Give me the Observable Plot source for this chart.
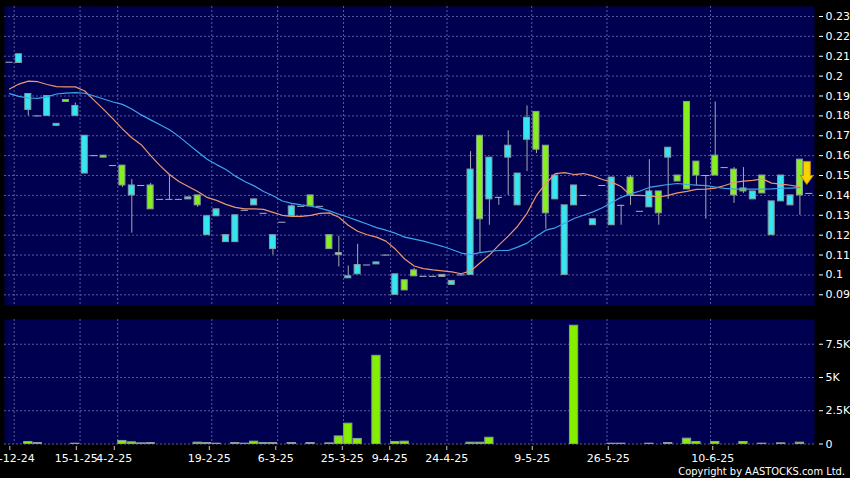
<!DOCTYPE html>
<html><head><meta charset="utf-8">
<script src="https://cdn.jsdelivr.net/npm/d3@7"></script>
<script src="https://cdn.jsdelivr.net/npm/@observablehq/plot@0.6"></script>
<style>
html,body{margin:0;padding:0;background:#000;}
#wrap{position:relative;width:850px;height:478px;background:#000;overflow:hidden;font-family:"DejaVu Sans",sans-serif;}
#wrap > div.p{position:absolute;left:0;}
#copy{position:absolute;right:5px;top:466px;color:#fff;font-family:"DejaVu Sans Condensed","DejaVu Sans",sans-serif;font-stretch:condensed;font-size:11px;line-height:11px;white-space:nowrap;}
</style></head><body>
<div id="wrap">
  <div class="p" id="main" style="top:0"></div>
  <div class="p" id="vol" style="top:310px"></div>
  <div class="p" id="axis" style="top:443px"></div>
  <div id="copy">Copyright by AASTOCKS.com Ltd.</div>
</div>
<script>
// ---- data (one entry per trading session, index 0..85) ----
const opens  = [.207,.2066,.183,.180,.180,.175,.188,.180,.151,.160,.160,.155,.155,.140,.145,.145,.138,.138,.138,.138,
  .140,.120,.1295,.1165,.1165,.1325,.135,.131,.113,.1265,.1295,.1345,.140,.1345,.120,.111,.0983,.1003,.105,.1053,
  .110,.090,.0973,.1023,.0993,.0993,.099,.095,.100,.100,.170,.138,.139,.159,.135,.168,.182,.165,.138,.100,
  .135,.140,.125,.145,.125,.135,.149,.132,.134,.142,.159,.150,.187,.157,.150,.160,.154,.153,.1435,.138,
  .150,.120,.137,.135,.158,.141];
const highs  = [.207,.211,.191,.180,.190,.176,.188,.1865,.170,.160,.160,.155,.155,.148,.145,.146,.138,.150,.138,.139,
  .140,.130,.133,.120,.130,.1325,.138,.131,.120,.1265,.1352,.1345,.140,.1345,.120,.1195,.1045,.1154,.105,.1063,
  .110,.1003,.0973,.1033,.0993,.0993,.100,.097,.100,.162,.170,.159,.139,.1725,.151,.185,.182,.165,.150,.135,
  .145,.140,.128,.145,.149,.135,.150,.132,.158,.142,.164,.150,.187,.157,.150,.187,.154,.154,.154,.142,
  .150,.137,.150,.140,.158,.141];
const lows   = [.207,.2066,.180,.180,.180,.175,.187,.180,.151,.160,.159,.155,.144,.121,.145,.133,.138,.138,.138,.138,
  .134,.120,.1295,.1165,.1165,.1325,.135,.131,.110,.1265,.1295,.1345,.1345,.1345,.113,.104,.0983,.1003,.105,.1053,
  .110,.090,.0922,.0993,.0993,.0993,.099,.095,.100,.100,.111,.125,.135,.140,.135,.152,.161,.123,.138,.100,
  .135,.140,.125,.145,.125,.125,.135,.132,.134,.125,.138,.147,.143,.145,.128,.150,.154,.136,.141,.138,
  .141,.120,.137,.135,.130,.141];
const closes = [.207,.211,.191,.180,.190,.176,.187,.185,.170,.160,.159,.155,.145,.145,.145,.133,.138,.138,.138,.139,
  .135,.1295,.133,.120,.130,.1325,.138,.131,.120,.1265,.1345,.1345,.1345,.1345,.113,.110,.0993,.105,.105,.1063,
  .110,.1003,.0922,.0993,.0993,.0993,.100,.097,.100,.153,.128,.159,.139,.165,.151,.179,.163,.131,.150,.135,
  .145,.140,.128,.145,.149,.135,.140,.132,.142,.131,.164,.147,.143,.150,.150,.150,.154,.140,.142,.142,
  .141,.137,.150,.140,.140,.141];
const volumes = [0,0,150,75,0,0,0,25,0,0,0,0,230,125,50,75,0,0,0,0,
  100,75,25,0,75,25,175,75,75,0,75,0,75,0,50,570,1530,380,0,6630,
  0,150,175,0,0,0,0,0,0,100,100,470,0,0,0,0,0,0,0,0,
  8890,0,0,0,25,25,0,0,25,0,75,0,400,150,0,150,0,0,150,0,
  25,0,50,0,100,0];
const maFast = [.1935,.196,.1975,.1972,.1958,.1947,.1946,.1946,.1925,.1878,.1833,.1785,.1735,.169,.1655,.160,.155,.1505,.147,.1445,
  .142,.139,.1375,.1355,.134,.1332,.1332,.133,.1315,.130,.1295,.1295,.130,.131,.1312,.129,.125,.122,.1202,.119,
  .117,.113,.108,.1045,.1032,.1025,.102,.1015,.1006,.102,.106,.110,.115,.1195,.1245,.131,.140,.146,.151,.1515,
  .1505,.151,.1498,.148,.1467,.1445,.140,.140,.1398,.1392,.140,.1413,.142,.143,.1432,.1437,.145,.1465,.1472,.1476,
  .1483,.1462,.1457,.1451,.1443,null];
const maSlow = [.1912,.1898,.189,.1888,.1896,.191,.1915,.1917,.1914,.190,.1885,.187,.1858,.1835,.1805,.178,.1755,.173,.1697,.1658,
  .162,.1582,.1555,.153,.1497,.147,.1448,.142,.1398,.1372,.136,.1352,.1346,.1336,.1322,.1305,.129,.1273,.1256,.1238,
  .1225,.121,.119,.118,.117,.1157,.1144,.1128,.111,.1102,.1112,.1118,.1123,.1123,.114,.116,.1195,.1225,.1237,.126,
  .1284,.130,.1317,.1338,.1364,.139,.1408,.1422,.144,.1448,.1455,.146,.1455,.1452,.1449,.1442,.1435,.1432,.1432,.1432,
  .1432,.1433,.1436,.1437,.1439,null];
const tickIndex  = [0, 7, 11, 21, 28, 35, 40, 46, 55, 63, 74];
const tickLabels = ["31-12-24","15-1-25","4-2-25","19-2-25","6-3-25","25-3-25","9-4-25","24-4-25","9-5-25","26-5-25","10-6-25"];
const priceTicks = [0.09,0.10,0.11,0.12,0.13,0.14,0.15,0.16,0.17,0.18,0.19,0.20,0.21,0.22,0.23];
const volumeTicks = [0, 2500, 5000, 7500];
const arrowIndex = 85, arrowPrice = 0.1513;

// ---- styling ----
const NAVY = "#000050", GRID = "#5a5aa0", CYAN = "#33e6f2", GREEN = "#86ef1e",
      OUTLINE = "#8c9c9c", WICK = "#a8a8b4", ORANGE = "#ec9670", BLUE = "#3ca4ec";
const FONT = {background: "transparent", color: "#fff", fontFamily: "DejaVu Sans, sans-serif", fontSize: "11px", overflow: "visible"};
const dash = {stroke: GRID, strokeOpacity: 1, strokeDasharray: "2,2"};

const candles = opens.map((o, i) => ({i, o, h: highs[i], l: lows[i], c: closes[i]}));
const up = candles.filter(d => d.c > d.o);
const down = candles.filter(d => d.c < d.o);
const flat = candles.filter(d => d.c === d.o);
const wicks = candles.filter(d => d.h > d.l);
const gridIdx = tickIndex.map(i => i + 0.5);
const fast = maFast.map((v, i) => ({i, v})).filter(d => d.v != null);
const slow = maSlow.map((v, i) => ({i, v})).filter(d => d.v != null);
const vols = volumes.map((v, i) => ({i, v})).filter(d => d.v > 0);

const xMain = {type: "linear", domain: [-0.53, 85.55], axis: null};
const half = 0.32, flatHalf = 0.38, volHalf = 0.44;

const arrowSymbol = {draw(ctx) {
  ctx.moveTo(-3.5, -11.5); ctx.lineTo(3.5, -11.5); ctx.lineTo(3.5, 2.5); ctx.lineTo(6.5, 2.5);
  ctx.lineTo(0, 11.5); ctx.lineTo(-6.5, 2.5); ctx.lineTo(-3.5, 2.5); ctx.closePath();
}};

const mainChart = Plot.plot({
  width: 850, height: 310, marginLeft: 4, marginRight: 36, marginTop: 6, marginBottom: 5,
  x: xMain,
  y: {domain: [0.08462, 0.23503], axis: null},
  style: FONT,
  marks: [
    Plot.frame({fill: NAVY}),
    Plot.ruleY(priceTicks, dash),
    Plot.ruleX(gridIdx, dash),
    Plot.ruleX(wicks, {x: "i", y1: "l", y2: "h", stroke: WICK}),
    Plot.ruleY(flat, {y: "c", x1: d => d.i - flatHalf, x2: d => d.i + flatHalf, stroke: "#a8b4c4"}),
    Plot.rect(up, {x1: d => d.i - half, x2: d => d.i + half, y1: "o", y2: "c", fill: CYAN, stroke: OUTLINE}),
    Plot.rect(down, {x1: d => d.i - half, x2: d => d.i + half, y1: "o", y2: "c", fill: GREEN, stroke: OUTLINE}),
    Plot.line(fast, {x: "i", y: "v", stroke: ORANGE, strokeWidth: 1.2}),
    Plot.line(slow, {x: "i", y: "v", stroke: BLUE, strokeWidth: 1.2}),
    Plot.dot([{i: arrowIndex, p: arrowPrice}], {x: "i", y: "p", dx: -2.5, symbol: arrowSymbol, fill: "#f6d200", stroke: "#c08a00", strokeWidth: 1}),
    Plot.axisY(priceTicks, {anchor: "right", label: null, tickSize: 4, tickPadding: 3, dx: 4, stroke: "#fff", tickFormat: d => String(+d.toFixed(2))})
  ]
});
document.getElementById("main").appendChild(mainChart);

const volChart = Plot.plot({
  width: 850, height: 168, marginLeft: 4, marginRight: 36, marginTop: 9, marginBottom: 34.5,
  x: xMain,
  y: {domain: [0, 9360], axis: null},
  style: FONT,
  marks: [
    Plot.frame({fill: NAVY}),
    Plot.ruleY(volumeTicks, dash),
    Plot.ruleX(gridIdx, dash),
    Plot.rect(vols, {x1: d => d.i - volHalf, x2: d => d.i + volHalf, y1: 0, y2: "v", fill: "#84f000", stroke: OUTLINE}),
    Plot.axisY(volumeTicks, {anchor: "right", label: null, tickSize: 4, tickPadding: 3, dx: 4, stroke: "#fff", tickFormat: d => d === 0 ? "0" : (d / 1000) + "K"})
  ]
});
document.getElementById("vol").appendChild(volChart);

const labelOf = new Map(tickIndex.map((t, k) => [t, tickLabels[k]]));
const axisChart = Plot.plot({
  width: 850, height: 35, marginLeft: 4, marginRight: 36, marginTop: 0, marginBottom: 32,
  x: {type: "linear", domain: [-0.558, 84.71], axis: null},
  style: FONT,
  marks: [
    Plot.axisX(tickIndex, {anchor: "bottom", label: null, tickSize: 4, tickPadding: 4, stroke: "#c8c8c8", fill: "#fff", tickFormat: d => labelOf.get(d)})
  ]
});
document.getElementById("axis").appendChild(axisChart);
</script>
</body></html>
